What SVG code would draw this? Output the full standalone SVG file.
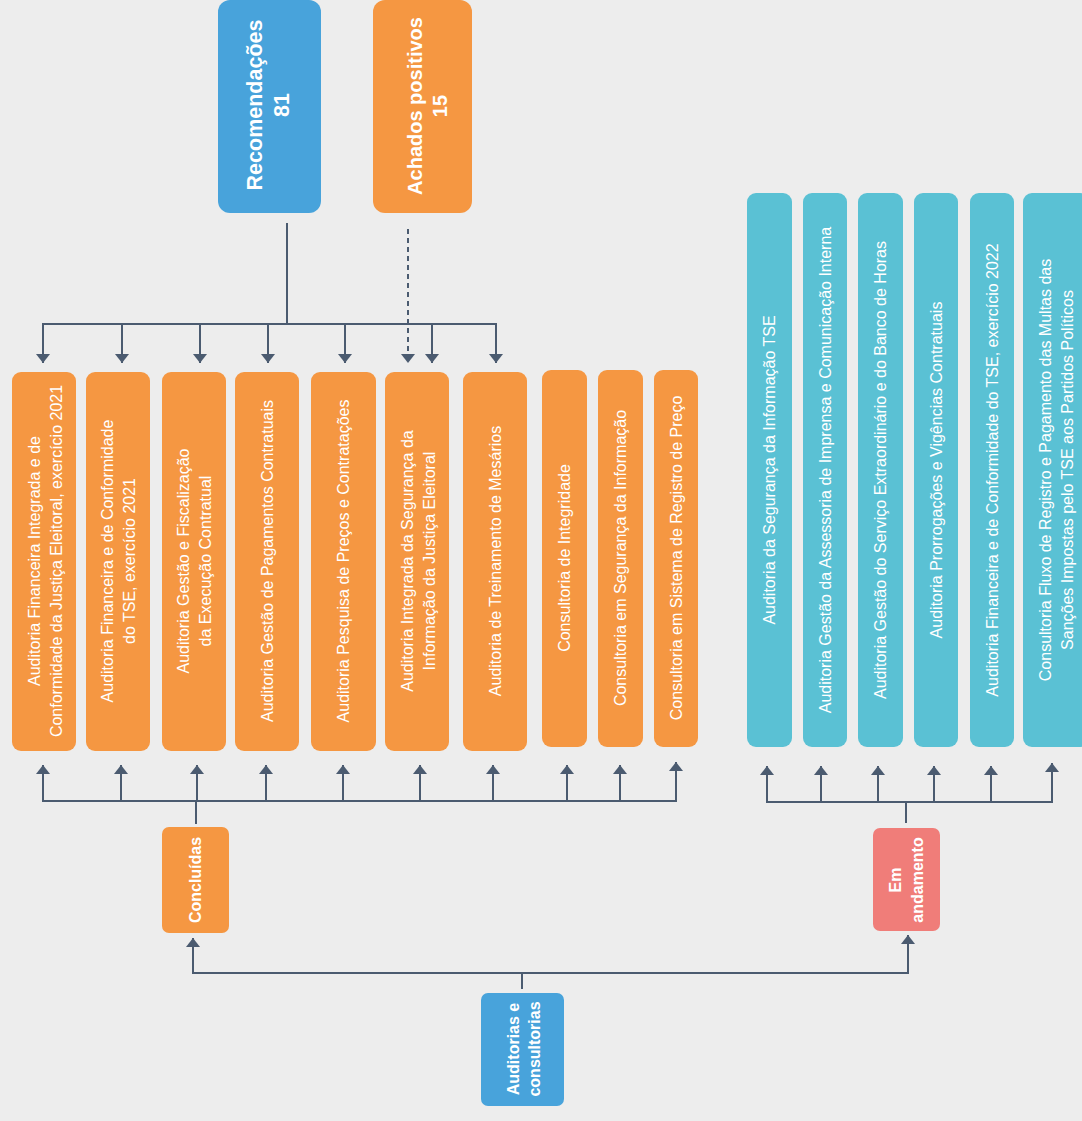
<svg xmlns="http://www.w3.org/2000/svg" width="1082" height="1121" viewBox="0 0 1082 1121">
<style>
  .bg{fill:#ededed}
  .or{fill:#f59742}
  .bl{fill:#48a3db}
  .te{fill:#5ac1d4}
  .rd{fill:#f07d79}
  .t{font-family:"Liberation Sans",Arial,sans-serif;font-size:16px;fill:#ffffff;text-anchor:middle;dominant-baseline:central}
  .b{font-weight:bold}
  .big{font-size:20px}
  .big2{font-size:21.5px}
  .ln{stroke:#4b5b70;stroke-width:2;fill:none}
  .arr{marker-end:url(#ah)}
  .dash{stroke-dasharray:5 4}
</style>
<defs>
  <marker id="ah" markerUnits="userSpaceOnUse" markerWidth="9" markerHeight="14" refX="9" refY="7" orient="auto" viewBox="0 0 9 14">
    <path d="M0,0 L9,7 L0,14 z" fill="#4b5b70"/>
  </marker>
</defs>
<rect class="bg" x="0" y="0" width="1082" height="1121"/>

<g id="connectors">
  <line class="ln" x1="287" y1="223" x2="287" y2="324"/>
  <polyline class="ln arr" points="43,363 43,324 496,324 496,363"/>
  <line class="ln arr" x1="43" y1="340" x2="43" y2="363"/>
  <line class="ln arr" x1="122" y1="324" x2="122" y2="363"/>
  <line class="ln arr" x1="200" y1="324" x2="200" y2="363"/>
  <line class="ln arr" x1="268" y1="324" x2="268" y2="363"/>
  <line class="ln arr" x1="345" y1="324" x2="345" y2="363"/>
  <line class="ln arr" x1="432" y1="324" x2="432" y2="363"/>
  <line class="ln arr dash" x1="408" y1="229" x2="408" y2="363"/>
  <line class="ln" x1="196" y1="824" x2="196" y2="801"/>
  <line class="ln" x1="43" y1="801" x2="676" y2="801"/>
  <line class="ln arr" x1="43" y1="802" x2="43" y2="765"/>
  <line class="ln arr" x1="121" y1="801" x2="121" y2="765"/>
  <line class="ln arr" x1="197" y1="801" x2="197" y2="765"/>
  <line class="ln arr" x1="266" y1="801" x2="266" y2="765"/>
  <line class="ln arr" x1="343" y1="801" x2="343" y2="765"/>
  <line class="ln arr" x1="420" y1="801" x2="420" y2="765"/>
  <line class="ln arr" x1="493" y1="801" x2="493" y2="765"/>
  <line class="ln arr" x1="567" y1="801" x2="567" y2="765"/>
  <line class="ln arr" x1="620" y1="801" x2="620" y2="765"/>
  <line class="ln arr" x1="676" y1="802" x2="676" y2="762"/>
  <line class="ln" x1="906" y1="823" x2="906" y2="802"/>
  <line class="ln" x1="767" y1="802" x2="1052" y2="802"/>
  <line class="ln arr" x1="767" y1="803" x2="767" y2="766"/>
  <line class="ln arr" x1="821" y1="802" x2="821" y2="766"/>
  <line class="ln arr" x1="878" y1="802" x2="878" y2="766"/>
  <line class="ln arr" x1="934" y1="802" x2="934" y2="766"/>
  <line class="ln arr" x1="991" y1="802" x2="991" y2="766"/>
  <line class="ln arr" x1="1052" y1="803" x2="1052" y2="763"/>
  <line class="ln" x1="522" y1="989" x2="522" y2="973"/>
  <polyline class="ln arr" points="522,973 193,973 193,938"/>
  <polyline class="ln arr" points="522,973 908,973 908,935"/>
</g>

<g id="recomendacoes">
  <rect class="bl" x="218" y="0" width="103" height="213" rx="12"/>
  <text class="t b big2" transform="translate(255,105) rotate(-90)">Recomendações</text>
  <text class="t b big2" transform="translate(282,105) rotate(-90)">81</text>
</g>
<g id="achados">
  <rect class="or" x="373" y="0" width="99" height="213" rx="12"/>
  <text class="t b big" transform="translate(415,106) rotate(-90)">Achados positivos</text>
  <text class="t b big" transform="translate(440,106) rotate(-90)">15</text>
</g>

<g id="o1"><rect class="or" x="12" y="372" width="64" height="379" rx="9"/>
  <text class="t" transform="translate(34,561) rotate(-90)">Auditoria Financeira Integrada e de</text>
  <text class="t" transform="translate(56,561) rotate(-90)">Conformidade da Justiça Eleitoral, exercício 2021</text></g>
<g id="o2"><rect class="or" x="86" y="372" width="64" height="379" rx="9"/>
  <text class="t" transform="translate(107,561) rotate(-90)">Auditoria Financeira e de Conformidade</text>
  <text class="t" transform="translate(129,561) rotate(-90)">do TSE, exercício 2021</text></g>
<g id="o3"><rect class="or" x="162" y="372" width="64" height="379" rx="9"/>
  <text class="t" transform="translate(183,561) rotate(-90)">Auditoria Gestão e Fiscalização</text>
  <text class="t" transform="translate(205,561) rotate(-90)">da Execução Contratual</text></g>
<g id="o4"><rect class="or" x="235" y="372" width="64" height="379" rx="9"/>
  <text class="t" transform="translate(267,561) rotate(-90)">Auditoria Gestão de Pagamentos Contratuais</text></g>
<g id="o5"><rect class="or" x="311" y="372" width="65" height="379" rx="9"/>
  <text class="t" transform="translate(343,561) rotate(-90)">Auditoria Pesquisa de Preços e Contratações</text></g>
<g id="o6"><rect class="or" x="385" y="372" width="64" height="379" rx="9"/>
  <text class="t" transform="translate(407,561) rotate(-90)">Auditoria Integrada da Segurança da</text>
  <text class="t" transform="translate(429,561) rotate(-90)">Informação da Justiça Eleitoral</text></g>
<g id="o7"><rect class="or" x="463" y="372" width="64" height="379" rx="9"/>
  <text class="t" transform="translate(495,561) rotate(-90)">Auditoria de Treinamento de Mesários</text></g>
<g id="o8"><rect class="or" x="542" y="370" width="45" height="377" rx="9"/>
  <text class="t" transform="translate(564.5,558) rotate(-90)">Consultoria de Integridade</text></g>
<g id="o9"><rect class="or" x="598" y="370" width="45" height="377" rx="9"/>
  <text class="t" transform="translate(620.5,558) rotate(-90)">Consultoria em Segurança da Informação</text></g>
<g id="o10"><rect class="or" x="654" y="370" width="44" height="377" rx="9"/>
  <text class="t" transform="translate(676,558) rotate(-90)">Consultoria em Sistema de Registro de Preço</text></g>

<g id="t1"><rect class="te" x="747" y="193" width="45" height="554" rx="9"/>
  <text class="t" transform="translate(769.5,470) rotate(-90)">Auditoria da Segurança da Informação TSE</text></g>
<g id="t2"><rect class="te" x="803" y="193" width="44" height="554" rx="9"/>
  <text class="t" transform="translate(825,470) rotate(-90)">Auditoria Gestão da Assessoria de Imprensa e Comunicação Interna</text></g>
<g id="t3"><rect class="te" x="858" y="193" width="45" height="554" rx="9"/>
  <text class="t" transform="translate(880.5,470) rotate(-90)">Auditoria Gestão do Serviço Extraordinário e do Banco de Horas</text></g>
<g id="t4"><rect class="te" x="914" y="193" width="44" height="554" rx="9"/>
  <text class="t" transform="translate(936,470) rotate(-90)">Auditoria Prorrogações e Vigências Contratuais</text></g>
<g id="t5"><rect class="te" x="970" y="193" width="44" height="554" rx="9"/>
  <text class="t" transform="translate(992,470) rotate(-90)">Auditoria Financeira e de Conformidade do TSE, exercício 2022</text></g>
<g id="t6"><rect class="te" x="1023" y="193" width="66" height="554" rx="9"/>
  <text class="t" transform="translate(1045,470) rotate(-90)">Consultoria Fluxo de Registro e Pagamento das Multas das</text>
  <text class="t" transform="translate(1067,470) rotate(-90)">Sanções Impostas pelo TSE aos Partidos Políticos</text></g>

<g id="concluidas"><rect class="or" x="162" y="827" width="67" height="106" rx="7"/>
  <text class="t b" transform="translate(195.5,880) rotate(-90)">Concluídas</text></g>
<g id="emandamento"><rect class="rd" x="873" y="828" width="67" height="103" rx="7"/>
  <text class="t b" transform="translate(895,880) rotate(-90)">Em</text>
  <text class="t b" transform="translate(917,880) rotate(-90)">andamento</text></g>
<g id="auditorias"><rect class="bl" x="481" y="993" width="83" height="113" rx="7"/>
  <text class="t b" transform="translate(513,1049) rotate(-90)">Auditorias e</text>
  <text class="t b" transform="translate(534,1049) rotate(-90)">consultorias</text></g>
</svg>
